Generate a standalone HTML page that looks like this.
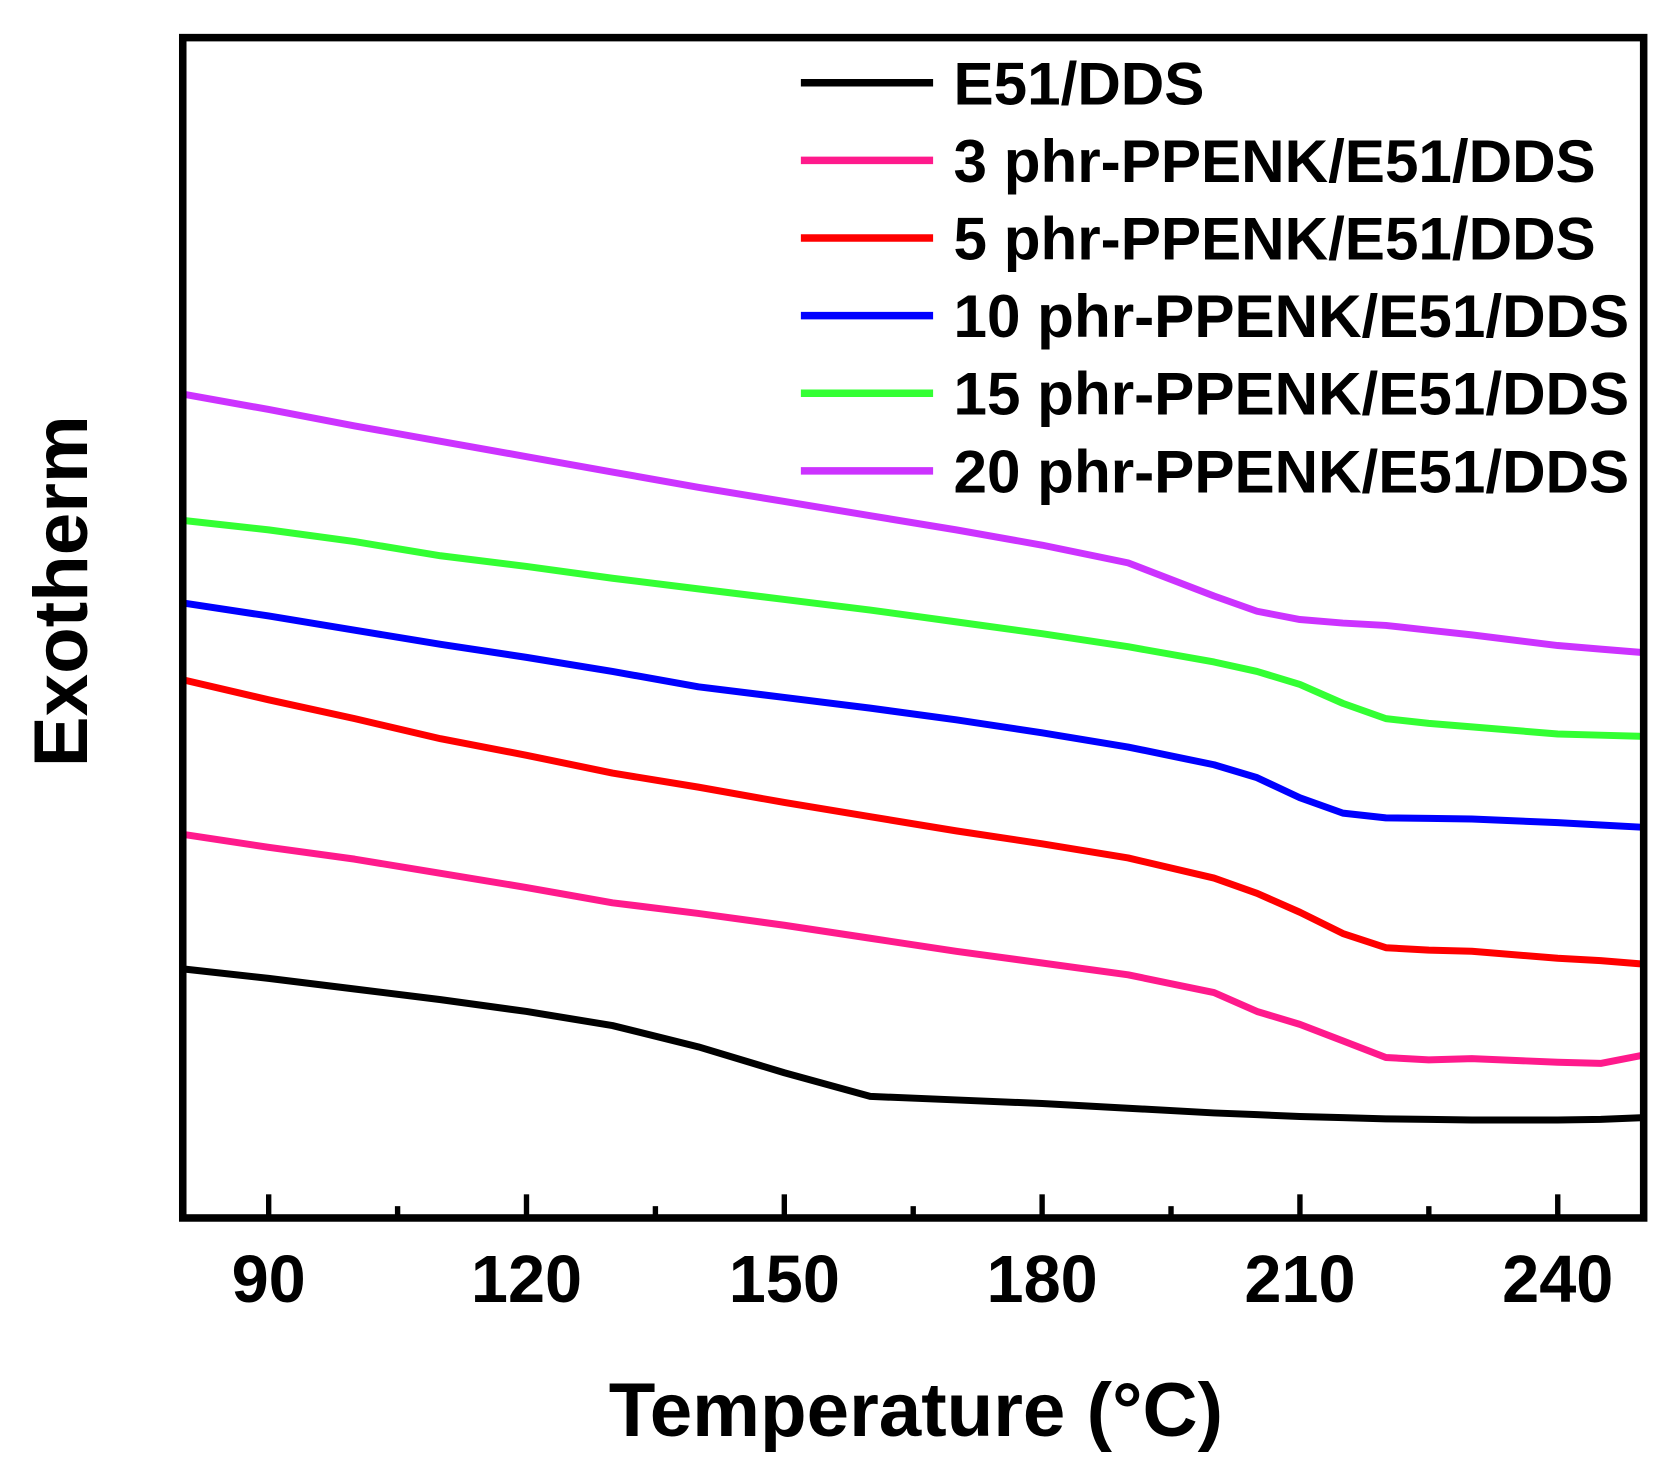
<!DOCTYPE html>
<html><head><meta charset="utf-8"><style>html,body{margin:0;padding:0;background:#fff}svg{display:block}text{font-family:"Liberation Sans",sans-serif;font-weight:bold}</style></head>
<body>
<svg id="chart" width="1677" height="1462" viewBox="0 0 1560 1360" xmlns="http://www.w3.org/2000/svg">
<rect x="0" y="0" width="1560" height="1360" fill="#fff"/>
<g id="plot"></g>
<g id="axes"></g>
<g id="legend"></g>
<text x="852" y="1336" font-size="71" text-anchor="middle">Temperature (°C)</text>
<text transform="translate(81,550) rotate(-90)" font-size="71" text-anchor="middle">Exotherm</text>
</svg>
<script>
const temps = [80,90,100,110,120,130,140,150,160,170,180,190,200,205,210,215,220,225,230,240,245,250];
const seriesNames = ["E51/DDS","3 phr-PPENK/E51/DDS","5 phr-PPENK/E51/DDS","10 phr-PPENK/E51/DDS","15 phr-PPENK/E51/DDS","20 phr-PPENK/E51/DDS"];
const seriesColors = ["#000000","#ff1a8c","#ff0000","#0000ff","#33ff33","#cc33ff"];
const e51 = [21.1,20.3,19.4,18.5,17.5,16.3,14.5,12.3,10.3,10.0,9.7,9.3,8.9,8.75,8.6,8.5,8.4,8.35,8.3,8.3,8.35,8.5];
const phr3 = [32.5,31.4,30.4,29.2,28.0,26.7,25.8,24.8,23.7,22.6,21.6,20.6,19.1,17.5,16.4,15.0,13.6,13.4,13.5,13.2,13.1,13.8];
const phr5 = [45.6,43.9,42.3,40.6,39.2,37.7,36.5,35.2,34.0,32.8,31.7,30.5,28.8,27.5,25.9,24.1,22.9,22.7,22.6,22.0,21.8,21.5];
const phr10 = [52.1,51.0,49.8,48.6,47.5,46.3,45.0,44.1,43.2,42.2,41.1,39.9,38.4,37.3,35.6,34.3,33.9,33.85,33.8,33.5,33.3,33.1];
const phr15 = [59.1,58.3,57.3,56.1,55.2,54.2,53.3,52.4,51.5,50.5,49.5,48.4,47.1,46.3,45.2,43.6,42.3,41.9,41.6,41.0,40.9,40.8];
const phr20 = [69.8,68.5,67.1,65.8,64.5,63.2,61.9,60.7,59.5,58.3,57.0,55.5,52.7,51.4,50.7,50.4,50.2,49.8,49.4,48.5,48.2,47.9];
const xTicks = [90,120,150,180,210,240];
const xMinor = [105,135,165,195,225];

const L=170,R=1529,T=35,B=1133;
const xs = v => L + (v-80)/(250-80)*(R-L);
const ys = v => B - v/100*(B-T);
const NS="http://www.w3.org/2000/svg";
function mk(tag, attrs, parent){const e=document.createElementNS(NS,tag);for(const k in attrs)e.setAttribute(k,attrs[k]);parent.appendChild(e);return e;}
const plot=document.getElementById('plot'), axes=document.getElementById('axes'), legend=document.getElementById('legend');
const all=[e51,phr3,phr5,phr10,phr15,phr20];
all.forEach((s,i)=>{
  const d=s.map((v,j)=>(j?'L':'M')+xs(temps[j]).toFixed(1)+','+ys(v).toFixed(1)).join(' ');
  const p=mk('path',{d:d,fill:'none',stroke:seriesColors[i],'stroke-width':6.5,'stroke-linejoin':'round'},plot);
  
  
  const ly=77+i*72.2;
  const ll=mk('line',{x1:745,x2:868,y1:ly,y2:ly,stroke:seriesColors[i],'stroke-width':7},legend);
  
  
  const lt=mk('text',{x:887,y:ly+20,'font-size':56},legend);
  lt.textContent=seriesNames[i];
  
  
});
const fr=mk('rect',{x:L,y:T,width:R-L,height:B-T,fill:'none',stroke:'#000','stroke-width':7},axes);


xTicks.forEach(t=>{
  const tk=mk('line',{x1:xs(t),x2:xs(t),y1:B,y2:B-22,stroke:'#000','stroke-width':5},axes);
  
  
  const tl=mk('text',{x:xs(t),y:1211,'font-size':62,'text-anchor':'middle'},axes);
  tl.textContent=t;
  
  
});
xMinor.forEach(t=>{
  const tk=mk('line',{x1:xs(t),x2:xs(t),y1:B,y2:B-11,stroke:'#000','stroke-width':5},axes);
  
  
});
</script>
</body></html>
